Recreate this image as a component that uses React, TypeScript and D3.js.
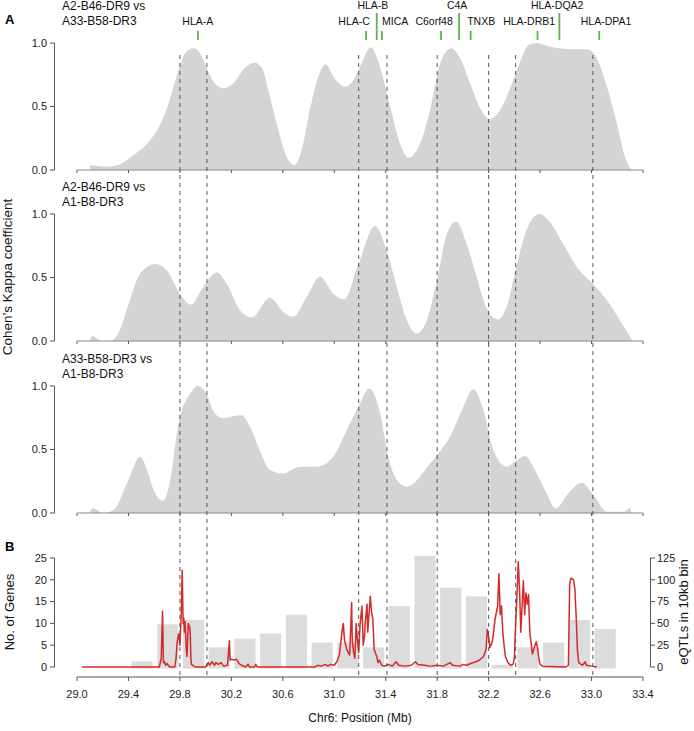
import React from 'react';
import * as d3 from 'd3';

const xTicks = [29.0, 29.4, 29.8, 30.2, 30.6, 31.0, 31.4, 31.8, 32.2, 32.6, 33.0, 33.4];
const dashedMb = [29.8, 30.01, 31.19, 31.41, 31.8, 32.2, 32.41, 33.01];

const geneNames = ['HLA-A', 'HLA-C', 'HLA-B', 'MICA', 'C6orf48', 'C4A', 'TNXB', 'HLA-DRB1', 'HLA-DQA2', 'HLA-DPA1'];
const geneMb = [29.94, 31.247, 31.33, 31.37, 31.83, 31.97, 32.06, 32.58, 32.75, 33.06];
const geneLabelMb = [29.939, 31.154, 31.30, 31.473, 31.776, 31.955, 32.142, 32.515, 32.733, 33.113];
const geneTall = [false, false, true, false, false, true, false, false, true, false];

const panelTitles = [
  ['A2-B46-DR9 vs', 'A33-B58-DR3'],
  ['A2-B46-DR9 vs', 'A1-B8-DR3'],
  ['A33-B58-DR3 vs', 'A1-B8-DR3'],
];

const kappa1Pos = [29.1, 29.101, 29.23, 29.32, 29.44, 29.57, 29.645, 29.72, 29.79, 29.84, 29.905, 29.956, 30.01, 30.07, 30.14, 30.215, 30.31, 30.38, 30.44, 30.5, 30.565, 30.63, 30.69, 30.747, 30.81, 30.876, 30.934, 30.993, 31.09, 31.15, 31.2, 31.284, 31.356, 31.434, 31.51, 31.576, 31.654, 31.745, 31.823, 31.908, 31.978, 32.056, 32.134, 32.206, 32.29, 32.367, 32.445, 32.51, 32.575, 32.68, 32.81, 32.963, 33.04, 33.12, 33.197, 33.26, 33.31];
const kappa1Val = [0, 0.035, 0.026, 0.04, 0.118, 0.236, 0.354, 0.55, 0.787, 0.92, 0.958, 0.92, 0.8, 0.683, 0.643, 0.683, 0.81, 0.845, 0.8, 0.577, 0.315, 0.105, 0.04, 0.157, 0.472, 0.735, 0.832, 0.735, 0.656, 0.71, 0.81, 0.966, 0.81, 0.5, 0.21, 0.097, 0.18, 0.472, 0.84, 0.958, 0.88, 0.683, 0.486, 0.4, 0.472, 0.643, 0.853, 0.984, 1.0, 0.97, 0.953, 0.95, 0.88, 0.656, 0.367, 0.105, 0.0];

const kappa2Pos = [29.1, 29.12, 29.19, 29.26, 29.334, 29.41, 29.49, 29.61, 29.7, 29.8, 29.886, 29.98, 30.086, 30.164, 30.267, 30.358, 30.5, 30.604, 30.68, 30.786, 30.89, 30.993, 31.076, 31.188, 31.317, 31.408, 31.486, 31.564, 31.64, 31.72, 31.797, 31.875, 31.947, 32.03, 32.108, 32.186, 32.27, 32.34, 32.42, 32.497, 32.592, 32.68, 32.78, 32.886, 33.01, 33.12, 33.22, 33.32];
const kappa2Val = [0, 0.04, 0.0, 0.0, 0.086, 0.32, 0.53, 0.607, 0.555, 0.373, 0.287, 0.424, 0.54, 0.45, 0.242, 0.185, 0.34, 0.229, 0.19, 0.346, 0.508, 0.373, 0.328, 0.607, 0.906, 0.71, 0.424, 0.164, 0.06, 0.164, 0.476, 0.84, 0.94, 0.763, 0.502, 0.255, 0.17, 0.268, 0.607, 0.88, 1.0, 0.932, 0.763, 0.58, 0.45, 0.32, 0.164, 0.0];

const kappa3Pos = [29.1, 29.12, 29.2, 29.28, 29.4, 29.49, 29.555, 29.6, 29.67, 29.72, 29.79, 29.88, 29.94, 30.01, 30.07, 30.14, 30.215, 30.28, 30.345, 30.42, 30.5, 30.6, 30.734, 30.864, 30.993, 31.097, 31.188, 31.273, 31.356, 31.42, 31.486, 31.564, 31.745, 31.81, 31.9, 32.004, 32.08, 32.16, 32.237, 32.34, 32.42, 32.484, 32.56, 32.65, 32.72, 32.83, 32.925, 33.015, 33.12, 33.25, 33.3, 33.31];
const kappa3Val = [0, 0.04, 0.0, 0.02, 0.26, 0.443, 0.31, 0.17, 0.097, 0.23, 0.706, 0.94, 1.0, 0.93, 0.785, 0.746, 0.764, 0.77, 0.68, 0.496, 0.339, 0.312, 0.365, 0.365, 0.443, 0.654, 0.837, 0.98, 0.785, 0.443, 0.26, 0.207, 0.39, 0.47, 0.6, 0.837, 0.974, 0.81, 0.496, 0.365, 0.417, 0.449, 0.339, 0.155, 0.037, 0.168, 0.239, 0.142, 0.01, 0.01, 0.04, 0.0];

const binStart = [29.4, 29.6, 29.8, 30.0, 30.2, 30.4, 30.6, 30.8, 31.0, 31.2, 31.4, 31.6, 31.8, 32.0, 32.2, 32.4, 32.6, 32.8, 33.0];
const geneCounts = [1.3, 9.8, 10.8, 4.5, 6.5, 7.7, 12, 5.6, 5.6, 4.5, 14, 25.5, 18.2, 16.2, 0.5, 4.5, 5.6, 10.8, 8.7];

const eqtlPos = [29.04, 29.64, 29.655, 29.665, 29.672, 29.68, 29.69, 29.7, 29.72, 29.76, 29.77, 29.78, 29.79, 29.8, 29.81, 29.818, 29.825, 29.83, 29.835, 29.84, 29.85, 29.855, 29.86, 29.865, 29.875, 29.88, 29.885, 29.89, 29.9, 29.92, 30.0, 30.02, 30.03, 30.05, 30.07, 30.08, 30.1, 30.12, 30.14, 30.17, 30.185, 30.19, 30.2, 30.22, 30.24, 30.26, 30.28, 30.31, 30.33, 30.34, 30.38, 30.39, 30.4, 30.85, 30.87, 30.9, 30.93, 30.95, 30.97, 31.0, 31.02, 31.04, 31.06, 31.07, 31.08, 31.1, 31.12, 31.135, 31.14, 31.15, 31.16, 31.17, 31.18, 31.19, 31.2, 31.215, 31.225, 31.235, 31.24, 31.255, 31.26, 31.27, 31.28, 31.29, 31.3, 31.31, 31.33, 31.34, 31.35, 31.37, 31.39, 31.42, 31.45, 31.48, 31.5, 31.55, 31.6, 31.63, 31.65, 31.7, 31.75, 31.8, 31.85, 31.9, 31.92, 31.98, 32.0, 32.03, 32.06, 32.1, 32.13, 32.16, 32.18, 32.19, 32.2, 32.21, 32.23, 32.25, 32.27, 32.28, 32.29, 32.3, 32.31, 32.32, 32.33, 32.35, 32.37, 32.39, 32.4, 32.41, 32.42, 32.43, 32.44, 32.45, 32.46, 32.47, 32.48, 32.49, 32.5, 32.51, 32.52, 32.53, 32.54, 32.56, 32.57, 32.58, 32.59, 32.6, 32.62, 32.8, 32.82, 32.83, 32.84, 32.86, 32.87, 32.88, 32.89, 32.9, 32.93, 32.95, 32.96, 33.0, 33.04];
const eqtlVal = [0, 0, 10, 64, 5, 6, 2, 4, 0, 0, 10, 30, 38, 25, 60, 111, 50, 56, 40, 52, 20, 12, 30, 50, 46, 40, 10, 3, 2, 0, 0, 5, 2, 6, 2, 5, 3, 5, 1, 2, 30, 8, 9, 8, 9, 4, 2, 0, 3, 0, 0, 3, 0, 0, 2, 1, 3, 1, 3, 2, 6, 14, 40, 50, 30, 19, 14, 74, 30, 17, 10, 50, 30, 17, 48, 70, 25, 35, 50, 72, 40, 60, 81, 63, 55, 20, 12, 5, 8, 2, 1, 3, 1, 6, 2, 1, 2, 6, 3, 2, 1, 2, 1, 5, 2, 1, 3, 2, 4, 6, 8, 12, 20, 43, 35, 22, 30, 55, 70, 107, 60, 70, 40, 25, 12, 5, 2, 3, 10, 50, 80, 121, 90, 40, 70, 99, 60, 85, 72, 83, 40, 28, 15, 25, 29, 22, 10, 3, 1, 0, 2, 95, 102, 100, 90, 60, 20, 5, 2, 6, 2, 1, 0];

const genesTicks = [0, 5, 10, 15, 20, 25];
const eqtlTicks = [0, 25, 50, 75, 100, 125];
const kappaTicks = [0, 0.5, 1.0];

const FONT = 'Liberation Sans, Arial, sans-serif';

export default function App() {
  const x = d3.scaleLinear().domain([29.0, 33.4]).range([77, 643]);
  const bases = [170, 341, 513];
  const kappaData = [
    [kappa1Pos, kappa1Val],
    [kappa2Pos, kappa2Val],
    [kappa3Pos, kappa3Val],
  ];
  const yGenes = d3.scaleLinear().domain([0, 25]).range([667, 558]);
  const yEqtl = d3.scaleLinear().domain([0, 125]).range([667, 558]);
  const eqtlLine = d3
    .line<number>()
    .x((_, i) => x(eqtlPos[i]))
    .y((d) => yEqtl(d))(eqtlVal) as string;

  return (
    <svg width={694} height={731} style={{ position: 'absolute', left: 0, top: 0, background: '#fff' }} fontFamily={FONT}>
      <rect x={0} y={0} width={694} height={731} fill="#fff" />
      <text x={5} y={24} fontSize={13} fontWeight="bold">A</text>
      <text x={5} y={551} fontSize={13} fontWeight="bold">B</text>

      {kappaData.map(([pos, val], p) => {
        const y = d3.scaleLinear().domain([0, 1]).range([bases[p], bases[p] - 127]);
        const area = d3
          .area<number>()
          .x((_, i) => x(pos[i]))
          .y0(y(0))
          .y1((d) => y(d))
          .curve(d3.curveMonotoneX)(val as number[]) as string;
        const titleY = [6, 187, 359][p];
        return (
          <g key={p}>
            <path d={area} fill="#d4d4d4" />
            <line x1={x(29)} x2={x(33.4)} y1={y(0)} y2={y(0)} stroke="#8a8a8a" />
            {xTicks.map((t) => (
              <line key={t} x1={x(t)} x2={x(t)} y1={y(0)} y2={y(0) + 3} stroke="#555" />
            ))}
            <line x1={54.5} x2={54.5} y1={y(0)} y2={y(1)} stroke="#555" />
            {kappaTicks.map((t) => (
              <g key={t}>
                <line x1={50} x2={54.5} y1={y(t)} y2={y(t)} stroke="#555" />
                <text x={47} y={y(t)} dy="0.35em" fontSize={11} textAnchor="end" fill="#222">
                  {t.toFixed(1)}
                </text>
              </g>
            ))}
            <text x={62} y={titleY} dy="0.35em" fontSize={12} fill="#111">{panelTitles[p][0]}</text>
            <text x={62} y={titleY + 15} dy="0.35em" fontSize={12} fill="#111">{panelTitles[p][1]}</text>
          </g>
        );
      })}

      {geneNames.map((g, i) => (
        <g key={g}>
          <line x1={x(geneMb[i])} x2={x(geneMb[i])} y1={geneTall[i] ? 13 : 31} y2={40} stroke="#62b04f" strokeWidth={1.8} />
          <text x={x(geneLabelMb[i])} y={geneTall[i] ? 5 : 21.5} dy="0.35em" fontSize={10.5} textAnchor="middle" fill="#111">
            {g}
          </text>
        </g>
      ))}

      <text transform="translate(12,277) rotate(-90)" fontSize={13.5} textAnchor="middle" fill="#111">
        Cohen’s Kappa coefficient
      </text>

      {binStart.map((b, i) => (
        <rect
          key={b}
          x={x(b) + 3}
          width={x(b + 0.2) - 1.5 - (x(b) + 3)}
          y={yGenes(geneCounts[i])}
          height={yGenes(0) + 1.5 - yGenes(geneCounts[i])}
          fill="#dcdcdc"
        />
      ))}
      <path d={eqtlLine} fill="none" stroke="#d32a2a" strokeWidth={1.5} strokeLinejoin="round" />

      {dashedMb.map((d) => (
        <line key={d} x1={x(d)} x2={x(d)} y1={55} y2={677} stroke="#555" strokeDasharray="4,4" strokeWidth={1} />
      ))}

      <line x1={54.5} x2={54.5} y1={yGenes(0)} y2={yGenes(25)} stroke="#555" />
      {genesTicks.map((t) => (
        <g key={t}>
          <line x1={50} x2={54.5} y1={yGenes(t)} y2={yGenes(t)} stroke="#555" />
          <text x={47} y={yGenes(t)} dy="0.35em" fontSize={11} textAnchor="end" fill="#222">{t}</text>
        </g>
      ))}
      <line x1={650.5} x2={650.5} y1={yEqtl(0)} y2={yEqtl(125)} stroke="#555" />
      {eqtlTicks.map((t) => (
        <g key={t}>
          <line x1={650.5} x2={655} y1={yEqtl(t)} y2={yEqtl(t)} stroke="#555" />
          <text x={657} y={yEqtl(t)} dy="0.35em" fontSize={11} textAnchor="start" fill="#222">{t}</text>
        </g>
      ))}
      <line x1={x(29)} x2={x(33.4)} y1={677} y2={677} stroke="#555" />
      {xTicks.map((t) => (
        <g key={t}>
          <line x1={x(t)} x2={x(t)} y1={677} y2={681} stroke="#555" />
          <text x={x(t)} y={694} dy="0.35em" fontSize={11} textAnchor="middle" fill="#222">{t.toFixed(1)}</text>
        </g>
      ))}
      <text x={360} y={718} dy="0.35em" fontSize={12} textAnchor="middle" fill="#111">Chr6: Position (Mb)</text>
      <text transform="translate(14,612) rotate(-90)" fontSize={13} textAnchor="middle" fill="#111">No. of Genes</text>
      <text transform="translate(688,612) rotate(-90)" fontSize={13} textAnchor="middle" fill="#111">eQTLs in 10kb bin</text>
    </svg>
  );
}
